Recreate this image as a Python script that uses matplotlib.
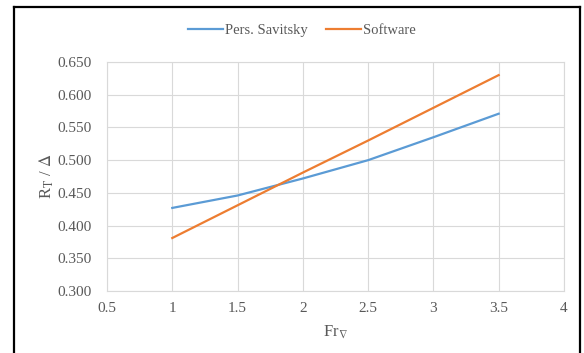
import matplotlib
matplotlib.use("Agg")
import matplotlib.pyplot as plt
from matplotlib.lines import Line2D

# Data
fr = [1.0, 1.5, 2.0, 2.5, 3.0, 3.5]
savitsky = [0.427, 0.446, 0.472, 0.500, 0.535, 0.571]
software = [0.381, 0.431, 0.481, 0.530, 0.580, 0.630]
xticks = [0.5, 1, 1.5, 2, 2.5, 3, 3.5, 4]
xticklabels = ["0.5", "1", "1.5", "2", "2.5", "3", "3.5", "4"]
yticks = [0.30, 0.35, 0.40, 0.45, 0.50, 0.55, 0.60, 0.65]

plt.rcParams['font.family'] = ['Liberation Serif', 'DejaVu Serif']
plt.rcParams['mathtext.fontset'] = 'stix'

grey = '#595959'
gridc = '#D9D9D9'

fig = plt.figure(figsize=(5.84, 3.53), dpi=100)
ax = fig.add_axes([0.1832, 0.1756, 0.7825, 0.6487])

ax.plot(fr, savitsky, color='#5B9BD5', lw=1.6, label='Pers. Savitsky')
ax.plot(fr, software, color='#ED7D31', lw=1.6, label='Software')

ax.set_xlim(0.5, 4)
ax.set_ylim(0.30, 0.65)
ax.set_xticks(xticks)
ax.set_xticklabels(xticklabels)
ax.set_yticks(yticks)
ax.set_yticklabels([f"{v:.3f}" for v in yticks])
ax.tick_params(length=0, labelsize=11, colors=grey, pad=8)
ax.tick_params(axis='y', pad=11)
ax.grid(True, color=gridc, lw=0.8)
ax.set_axisbelow(True)
for s in ax.spines.values():
    s.set_color(gridc)
    s.set_linewidth(0.8)

ax.set_xlabel(r'Fr$_{\nabla}$', fontsize=12, color=grey, labelpad=6)
ax.set_ylabel(r'R$_{\mathrm{T}}$ / $\Delta$', fontsize=12, color=grey, labelpad=1)

fig.legend(loc='center', bbox_to_anchor=(0.517, 0.915), ncol=2, frameon=False,
           fontsize=10.5, handlelength=2.4, handletextpad=0.15, columnspacing=1.2,
           labelcolor=grey)

# chart-area border
fig.add_artist(Line2D([14/584, 14/584], [-0.05, 1 - 7/353], color='black', lw=1.6))
fig.add_artist(Line2D([14/584, 580/584], [1 - 7/353, 1 - 7/353], color='black', lw=1.6))
fig.add_artist(Line2D([580/584, 580/584], [-0.05, 1 - 7/353], color='black', lw=1.6))

fig.savefig('out.png', dpi=100)
